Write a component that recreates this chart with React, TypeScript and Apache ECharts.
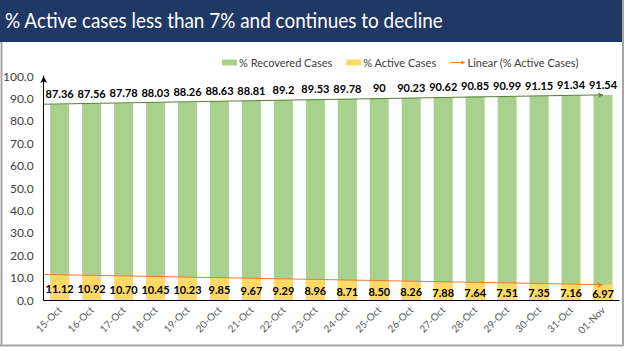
import React, { useEffect, useRef } from "react";
import * as echarts from "echarts";

const categories = ["15-Oct","16-Oct","17-Oct","18-Oct","19-Oct","20-Oct","21-Oct","22-Oct","23-Oct","24-Oct","25-Oct","26-Oct","27-Oct","28-Oct","29-Oct","30-Oct","31-Oct","01-Nov"];
const recovered = [87.36,87.56,87.78,88.03,88.26,88.63,88.81,89.2,89.53,89.78,90,90.23,90.62,90.85,90.99,91.15,91.34,91.54];
const active = [11.12,10.92,10.70,10.45,10.23,9.85,9.67,9.29,8.96,8.71,8.50,8.26,7.88,7.64,7.51,7.35,7.16,6.97];
// trend line endpoints (x in category units from axis start, y value)
const activeTrend = [[0, 11.4], [17.5, 6.85]];
const recoveredTrend = [[0, 87.4], [17.5, 91.6]];
const yTicks = { min: 0, max: 100, interval: 10 };

const FONT = "Lato";

export default function App() {
  const ref = useRef<HTMLDivElement>(null);
  useEffect(() => {
    const chart = echarts.init(ref.current!, null, { renderer: "svg" });
    const arrowIcon = "path://M0,4.4L13,4.4L13,2.5L18,5L13,7.5L13,5.6L0,5.6Z";
    chart.setOption({
      animation: false,
      backgroundColor: "#ffffff",
      textStyle: { fontFamily: FONT },
      graphic: [
        { type: "rect", shape: { x: 0, y: 0, width: 622, height: 42 }, style: { fill: "#1f3864" }, z: 0 },
        { type: "text", x: 5, y: 8, scaleX: 0.86, style: { text: "% Active cases less than 7% and continues to decline", fill: "#ffffff", font: `22px ${FONT}` }, z: 1 },
        { type: "line", shape: { x1: 1.5, y1: 42, x2: 1.5, y2: 345.5 }, style: { stroke: "#a6a6a6", lineWidth: 2 } },
        { type: "line", shape: { x1: 0, y1: 345.5, x2: 623, y2: 345.5 }, style: { stroke: "#a6a6a6", lineWidth: 2 } },
        { type: "line", shape: { x1: 623, y1: 0, x2: 623, y2: 346 }, style: { stroke: "#a6a6a6", lineWidth: 2 } },
      ],
      legend: {
        left: 222,
        top: 57,
        padding: 0,
        itemGap: 14,
        itemWidth: 15,
        itemHeight: 6,
        textStyle: { fontSize: 11, color: "#404040", fontFamily: FONT, padding: [0, 0, 0, -3] },
        data: [
          { name: "% Recovered Cases", icon: "rect" },
          { name: "% Active Cases", icon: "rect" },
          { name: "Linear (% Active Cases)", icon: arrowIcon, itemStyle: { color: "#ed7d31" } },
        ],
      },
      grid: { left: 40, right: 6, top: 76, bottom: 51, containLabel: false },
      xAxis: [
        {
          type: "category",
          data: categories,
          axisTick: { show: false },
          axisLine: { lineStyle: { color: "#000000", width: 1 } },
          axisLabel: { rotate: 45, fontSize: 10, color: "#595959", margin: 8, fontFamily: FONT },
        },
        { type: "value", min: 0, max: categories.length, show: false },
      ],
      yAxis: {
        type: "value",
        min: yTicks.min,
        max: yTicks.max,
        interval: yTicks.interval,
        splitLine: { show: false },
        axisLine: { show: true, symbol: ["none", "arrow"], symbolSize: [5, 7], lineStyle: { color: "#000000", width: 1 } },
        axisTick: { show: false },
        axisLabel: { fontSize: 12, color: "#404040", formatter: (v: number) => v.toFixed(1), margin: 10, fontFamily: FONT },
      },
      series: [
        {
          name: "% Recovered Cases",
          type: "bar",
          data: recovered,
          barWidth: 19,
          itemStyle: { color: "#a9d18e" },
          label: { show: true, position: "top", distance: 5, fontSize: 11, fontWeight: "bold", color: "#000000", fontFamily: FONT },
          z: 1,
        },
        {
          name: "% Active Cases",
          type: "bar",
          data: active,
          barWidth: 19,
          barGap: "-100%",
          itemStyle: { color: "#ffd966" },
          label: {
            show: true,
            position: "inside",
            offset: [0, 1],
            fontSize: 11,
            fontWeight: "bold",
            color: "#000000",
            fontFamily: FONT,
            formatter: (p: any) => Number(p.value).toFixed(2),
          },
          z: 2,
        },
        {
          name: "Linear (% Active Cases)",
          type: "line",
          xAxisIndex: 1,
          data: activeTrend.map((d, i) => ({ value: d, symbol: i === activeTrend.length - 1 ? "arrow" : "none", symbolSize: [5, 6], symbolRotate: -87 })),
          lineStyle: { color: "#ed7d31", width: 1 },
          itemStyle: { color: "#ed7d31" },
          z: 5,
        },
        {
          name: "Linear (% Recovered Cases)",
          type: "line",
          xAxisIndex: 1,
          data: recoveredTrend.map((d, i) => ({ value: d, symbol: i === recoveredTrend.length - 1 ? "arrow" : "none", symbolSize: [4, 5], symbolRotate: -85 })),
          lineStyle: { color: "#548235", width: 1 },
          itemStyle: { color: "#548235" },
          z: 5,
        },
      ],
    });
    return () => chart.dispose();
  }, []);
  return <div ref={ref} style={{ position: "fixed", left: 0, top: 0, width: 625, height: 351 }} />;
}
